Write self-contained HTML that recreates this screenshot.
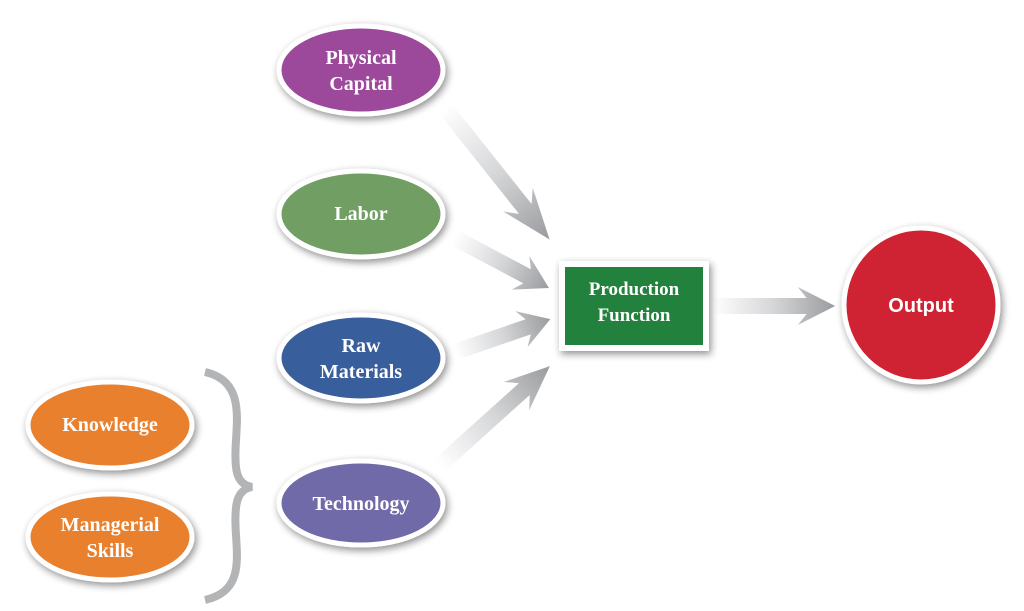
<!DOCTYPE html>
<html><head><style>
body{margin:0;background:#fff;}
svg{display:block;}
text{font-family:"Liberation Serif",serif;font-weight:bold;fill:#fff;text-anchor:middle;}
</style></head><body>
<svg width="1024" height="611" viewBox="0 0 1024 611" xmlns="http://www.w3.org/2000/svg">
<defs>
<filter id="sh" x="-30%" y="-30%" width="160%" height="160%"><feGaussianBlur in="SourceAlpha" stdDeviation="4"/><feOffset dx="2" dy="3"/><feComponentTransfer><feFuncA type="linear" slope="0.45"/></feComponentTransfer><feMerge><feMergeNode/><feMergeNode in="SourceGraphic"/></feMerge></filter>
<linearGradient id="ag" x1="0" y1="0" x2="1" y2="0"><stop offset="0" stop-color="#fff"/><stop offset="0.5" stop-color="#d5d6d8"/><stop offset="1" stop-color="#9a9b9e"/></linearGradient>
</defs>
<g>
<path transform="translate(445,108) rotate(51.5) scale(1.5,1)" d="M0,-8 L86,-8 L78,-19 L112,0 L78,19 L86,8 L0,8 Z" fill="url(#ag)"/>
<path transform="translate(455,238) rotate(28) scale(0.95,1)" d="M0,-8 L86,-8 L78,-19 L112,0 L78,19 L86,8 L0,8 Z" fill="url(#ag)"/>
<path transform="translate(455,352) rotate(-19) scale(0.9,1)" d="M0,-8 L86,-8 L78,-19 L112,0 L78,19 L86,8 L0,8 Z" fill="url(#ag)"/>
<path transform="translate(440,465) rotate(-42) scale(1.32,1)" d="M0,-8 L86,-8 L78,-19 L112,0 L78,19 L86,8 L0,8 Z" fill="url(#ag)"/>
<path transform="translate(712,306) scale(1.1,1)" d="M0,-8 L86,-8 L78,-19 L112,0 L78,19 L86,8 L0,8 Z" fill="url(#ag)"/>
</g>
<path d="M205,372 C240,380 238,410 236,440 C234,470 236,484 252,487 C236,490 234,505 236,535 C238,565 240,592 205,600" fill="none" stroke="#b3b4b6" stroke-width="8"/>
<g filter="url(#sh)" stroke="#fff" stroke-width="5">
<ellipse cx="361" cy="70" rx="82" ry="44" fill="#9c489c"/>
<ellipse cx="361" cy="214" rx="82" ry="43" fill="#6f9e63"/>
<ellipse cx="361" cy="358" rx="82" ry="43" fill="#385e9b"/>
<ellipse cx="361" cy="503" rx="82" ry="42" fill="#6f6aa9"/>
<ellipse cx="110" cy="425" rx="82" ry="43" fill="#e8802f"/>
<ellipse cx="110" cy="537" rx="82" ry="43" fill="#e8802f"/>
<rect x="562" y="264" width="144" height="84" fill="#24823c" stroke-width="6"/>
<circle cx="921" cy="305" r="77" fill="#cf2130"/>
</g>
<text x="361" y="64" font-size="20">Physical</text>
<text x="361" y="90" font-size="20">Capital</text>
<text x="361" y="220" font-size="20">Labor</text>
<text x="361" y="352" font-size="20">Raw</text>
<text x="361" y="378" font-size="20">Materials</text>
<text x="361" y="510" font-size="20">Technology</text>
<text x="110" y="431" font-size="20">Knowledge</text>
<text x="110" y="531" font-size="20">Managerial</text>
<text x="110" y="557" font-size="20">Skills</text>
<text x="634" y="295" font-size="19">Production</text>
<text x="634" y="321" font-size="19">Function</text>
<text x="921" y="312" font-size="20" style="font-family:'Liberation Sans',sans-serif">Output</text>
</svg>
</body></html>
